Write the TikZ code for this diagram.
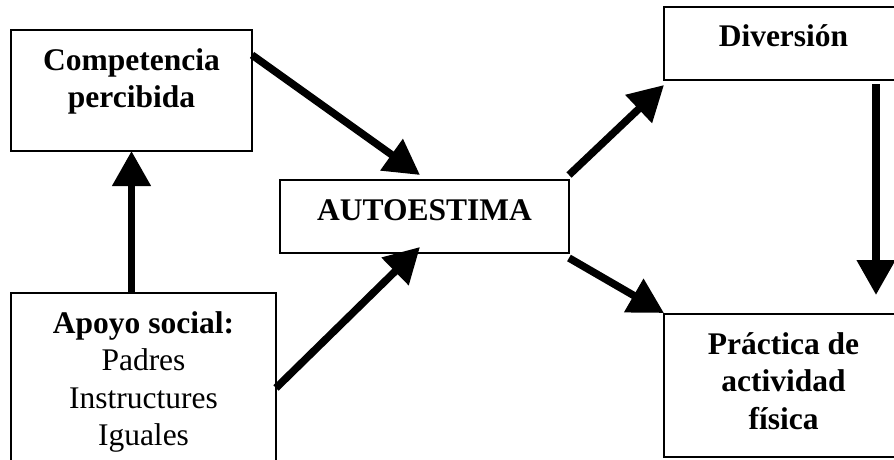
\documentclass[tikz,border=0pt]{standalone}
\usepackage{fontspec}
\setmainfont{Liberation Serif}
\usetikzlibrary{arrows.meta,calc}

% Box contents: a top-aligned, centred block of fixed size whose first
% baseline sits 40pt below the upper edge of the frame.
\newcommand{\boxtxt}[3]{%
  \parbox[c][#2][t]{#1}{\centering\fontsize{31.5pt}{37.5pt}\selectfont
    \rule{0pt}{40pt}#3}}

\tikzset{
  panel/.style={draw, line width=1.4pt, inner sep=0pt, outer sep=0pt,
                anchor=north west},
  flow/.style={line width=7.5pt, line cap=butt,
               -{Triangle[length=35pt,width=37pt]}}
}

\begin{document}
\begin{tikzpicture}[x=1pt,y=-1pt]
  \useasboundingbox (0,0) rectangle (894,460);
  \clip (0,0) rectangle (894,460);

  % boxes
  \node[panel] (comp) at (11,30)
    {\boxtxt{241pt}{121pt}{\bfseries Competencia\\percibida}};
  \node[panel] (apoyo) at (11,293)
    {\boxtxt{265pt}{185pt}{\textbf{Apoyo social:}\\Padres\\Instructures\\Iguales}};
  \node[panel] (auto) at (280,180)
    {\boxtxt{289pt}{73pt}{\bfseries AUTOESTIMA}};
  \node[panel] (div) at (664,7)
    {\boxtxt{239pt}{73pt}{\bfseries Diversión}};
  \node[panel] (prac) at (664,314)
    {\boxtxt{239pt}{143pt}{\bfseries Práctica de\\actividad\\física}};

  % arrows
  \draw[flow] (apoyo.north -| comp.south) -- (comp.south);
  \draw[flow] ($(comp.north east)+(0,25)$) -- ($(auto.north west)+(140,-5)$);
  \draw[flow] ($(apoyo.north east)+(0,95)$) -- ($(auto.south west)+(140,-6)$);
  \draw[flow] ($(auto.north east)+(0,-5)$) -- ($(div.south west)+(0,5)$);
  \draw[flow] ($(auto.south east)+(0,5)$) -- ($(prac.north west)+(0,-1)$);
  \draw[flow] ($(div.south west)+(212,4)$) -- ($(prac.north west)+(212,-19)$);
\end{tikzpicture}
\end{document}
